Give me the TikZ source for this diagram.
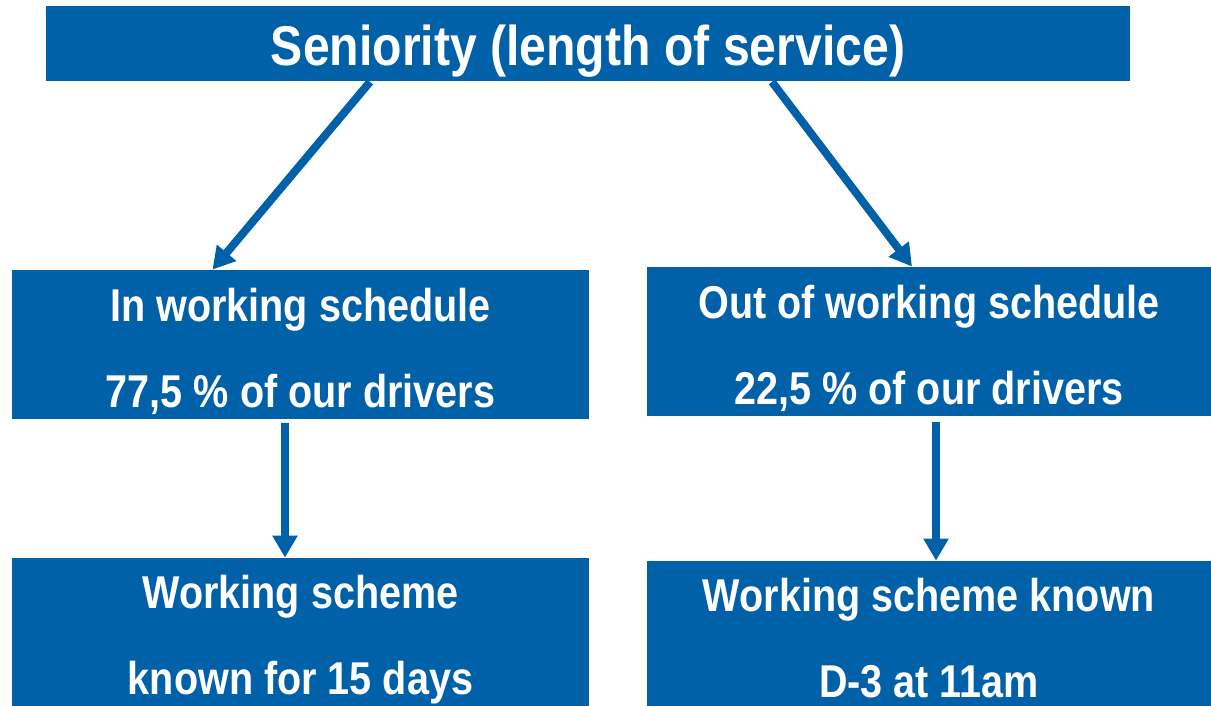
\documentclass[tikz,border=0pt]{standalone}
\usepackage{fontspec}
\setmainfont{Liberation Sans}[FakeStretch=0.86]
\usetikzlibrary{arrows.meta}
\definecolor{boxblue}{HTML}{0060A8}
\newcommand{\boxstrut}[1]{\rule{0pt}{#1}}

\begin{document}
\begin{tikzpicture}[x=0.5pt,y=-0.5pt]
		\tikzstyle{bluebox}=[rectangle,fill=boxblue,text=white,font=\bfseries\fontsize{23}{43}\selectfont,align=center,inner sep=0pt]
		\tikzstyle{blueline}=[draw=boxblue,line width=4pt,-{Triangle[width=12pt,length=11pt]}]
		\useasboundingbox (0,0) rectangle (1211,706);
		
		\node[bluebox,minimum width=542pt,minimum height=37.5pt,font=\bfseries\fontsize{28}{32}\selectfont](seniority) at (588,44) {\boxstrut{27.5pt}Seniority (length of service)};
		\node[bluebox,minimum width=288.5pt,minimum height=74.5pt](in) at (300.5,344.5) {\boxstrut{24pt}In working schedule\\77,5 \% of our drivers};
		\node[bluebox,minimum width=282pt,minimum height=74.5pt](out) at (929,341.5) {\boxstrut{24pt}Out of working schedule\\22,5 \% of our drivers};
		\node[bluebox,minimum width=288.5pt,minimum height=74pt](inscheme) at (300.5,632) {\boxstrut{24pt}Working scheme\\known for 15 days};
		\node[bluebox,minimum width=282pt,minimum height=72.5pt](outscheme) at (929,633.5) {\boxstrut{21pt}Working scheme known\\D-3 at 11am};
		
		\draw[blueline] ([xshift=-109pt]seniority.south) -- ([xshift=-44pt]in.north);
		\draw[blueline] ([xshift=92pt]seniority.south) -- ([xshift=-8.5pt]out.north);
		\draw[blueline,shorten <=2pt] ([xshift=-7.75pt]in.south) -- ([xshift=-7.75pt]inscheme.north);
		\draw[blueline,shorten <=3pt] ([xshift=3.5pt]out.south) -- ([xshift=3.5pt]outscheme.north);
\end{tikzpicture}
\end{document}
